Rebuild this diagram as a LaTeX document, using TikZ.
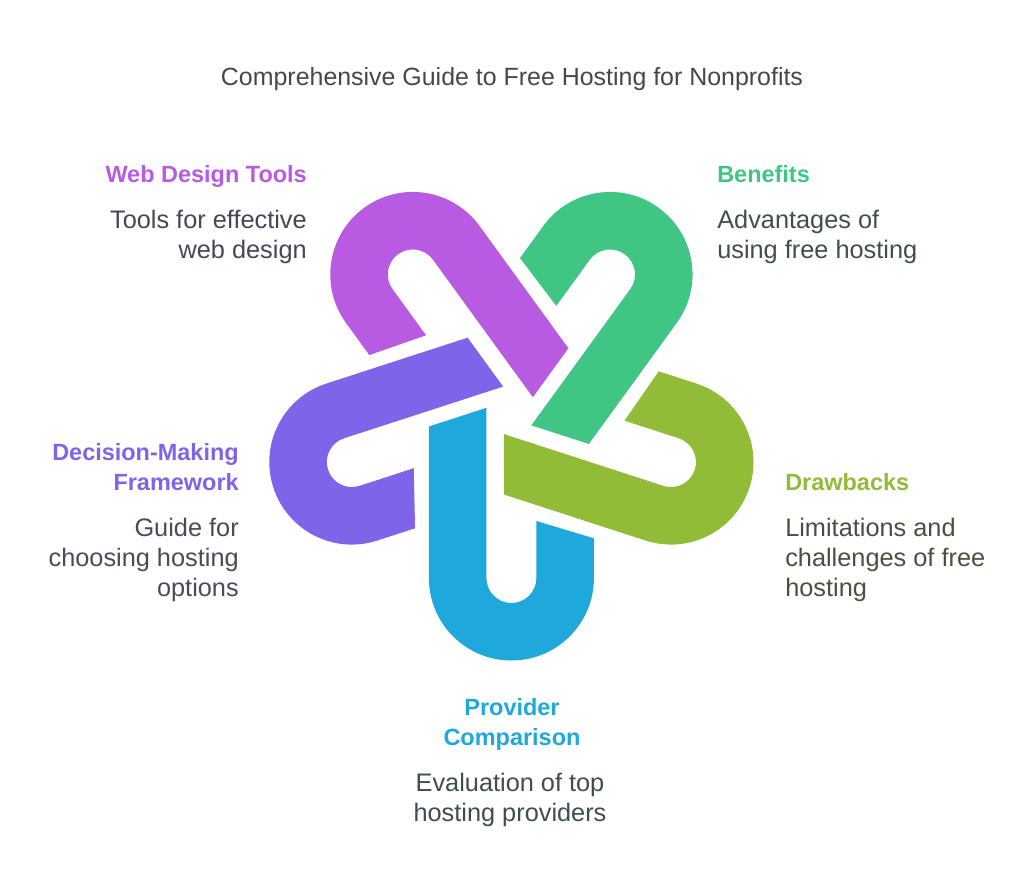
\documentclass[tikz,border=0pt]{standalone}
\usepackage{fontspec}
\setmainfont{Liberation Sans}
\definecolor{cWeb}{HTML}{B85BE2}
\definecolor{cBen}{HTML}{40C585}
\definecolor{cDraw}{HTML}{92BC38}
\definecolor{cProv}{HTML}{1FA8DC}
\definecolor{cDec}{HTML}{7F63E8}
\definecolor{tWeb}{HTML}{4E4257}
\definecolor{tBen}{HTML}{3F5047}
\definecolor{tDraw}{HTML}{4A4F40}
\definecolor{tProv}{HTML}{3D4D55}
\definecolor{tDec}{HTML}{4A4A5E}
\tikzset{
	titletext/.style={inner sep=0pt,text=black!72,font=\fontsize{18.7}{22.5}\selectfont},
	headtext/.style={inner sep=0pt,font=\fontsize{17.6}{22.5}\selectfont\bfseries},
	desctext/.style={inner sep=0pt,font=\fontsize{19}{22.5}\selectfont}
}
\begin{document}
\begin{tikzpicture}[x=0.75pt,y=0.75pt,yscale=-1,xscale=1]
	\useasboundingbox (0,0) rectangle (1024,889);
	% the five links, each one the bottom link turned about the middle
	\foreach \ang/\col/\tip in {0/cProv/-10,-72/cDraw/-7.4,-144/cBen/-8.2,-216/cWeb/-9.7,-288/cDec/-7.2}{
		\begin{scope}[shift={(511.4,410.2)},rotate=\ang]
			\fill [\col] (-82.5,{(\tip+25.5)/0.951}) -- (-82.5,167.8) arc (180:0:82.5) -- (82.5,128.1) -- (25,110.8) -- (25,167.8) arc (0:180:25) -- (-25,{(\tip+7.7)/0.951}) -- cycle;
		\end{scope}
	}
	\node [titletext,anchor=base] (title) at (512,85) {Comprehensive Guide to Free Hosting for Nonprofits};
	\node [headtext,text=cWeb,anchor=base east] (webhead) at (307,182) {Web Design Tools};
	\node [desctext,text=tWeb,align=right,anchor=north east] (webdesc) at (307,209.5) {Tools for effective\\web design};
	\node [headtext,text=cBen,anchor=base west] (benhead) at (717,182) {Benefits};
	\node [desctext,text=tBen,align=left,anchor=north west] (bendesc) at (717,209.5) {Advantages of\\using free hosting};
	\node [headtext,text=cDraw,anchor=base west] (drawhead) at (785,490) {Drawbacks};
	\node [desctext,text=tDraw,align=left,anchor=north west] (drawdesc) at (785,517.5) {Limitations and\\challenges of free\\hosting};
	\node [headtext,text=cProv,align=center,anchor=north] (provhead) at (512,698.5) {Provider\\Comparison};
	\node [desctext,text=tProv,align=center,anchor=north] (provdesc) at (510,773) {Evaluation of top\\hosting providers};
	\node [headtext,text=cDec,align=right,anchor=north east] (dechead) at (239,443.5) {Decision-Making\\Framework};
	\node [desctext,text=tDec,align=right,anchor=north east] (decdesc) at (239,517.5) {Guide for\\choosing hosting\\options};
\end{tikzpicture}
\end{document}
